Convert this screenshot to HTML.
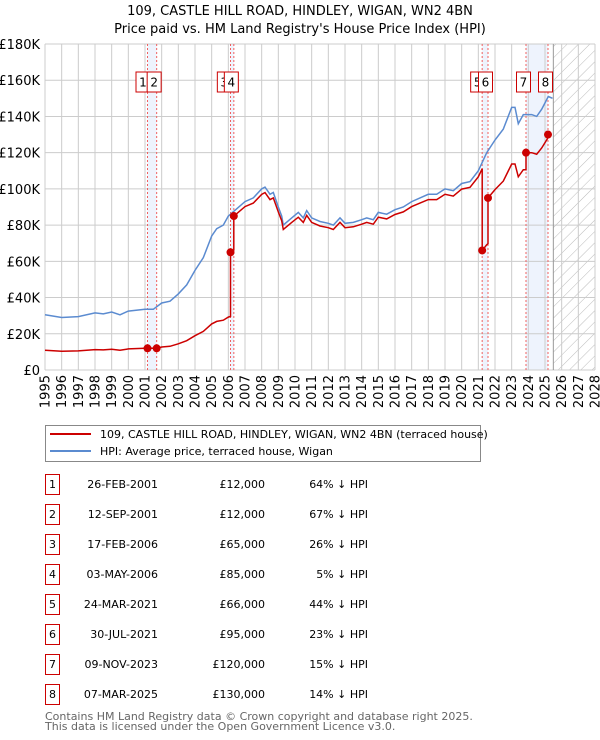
<!DOCTYPE html>
<html><head><meta charset="utf-8"><style>
body{margin:0;background:#fff;font-family:"Liberation Sans","DejaVu Sans",sans-serif}
#wrap{position:relative;width:600px;height:740px;overflow:hidden}
svg text{font-family:"DejaVu Sans","Liberation Sans",sans-serif}
</style></head><body>
<div id="wrap">
<svg id="svg" width="600" height="740"></svg>
</div>
<script>
const years=[1995,1996,1997,1998,1998.5,1999,1999.5,2000,2001,2001.5,2002,2002.5,2003,2003.5,2004,2004.5,2005,2005.3,2005.7,2006,2006.5,2007,2007.5,2008,2008.2,2008.5,2008.7,2009,2009.2,2009.3,2009.8,2010.2,2010.5,2010.7,2011,2011.5,2012,2012.3,2012.7,2013,2013.5,2014,2014.3,2014.7,2015,2015.5,2016,2016.5,2017,2017.5,2018,2018.5,2019,2019.5,2020,2020.5,2021,2021.5,2022,2022.5,2023,2023.2,2023.4,2023.7,2024.2,2024.5,2024.8,2025.2,2025.45];
const hpi=[30.5,29,29.5,31.5,31,32,30.5,32.5,33.5,33.5,37,38,42,47,55,62,74,78,80,85,89,93,95,100,101,97,98,90,85,80,84,87,84,88,84,82,81,80,84,81,81.5,83,84,83,87,86,88.5,90,93,95,97,97,100,99,103,104,110,120,127,133,145,145,136,141,141,140,144,151,150];
const saleDates=[2001.15,2001.7,2006.13,2006.33,2021.23,2021.58,2023.86,2025.18];
const salePrices=[12,12,65,85,66,95,120,130];
const saleLabels=["1","2","3","4","5","6","7","8"];
const saleDateText=["26-FEB-2001","12-SEP-2001","17-FEB-2006","03-MAY-2006","24-MAR-2021","30-JUL-2021","09-NOV-2023","07-MAR-2025"];
const salePriceText=["£12,000","£12,000","£65,000","£85,000","£66,000","£95,000","£120,000","£130,000"];
const salePctText=["64% ↓ HPI","67% ↓ HPI","26% ↓ HPI","5% ↓ HPI","44% ↓ HPI","23% ↓ HPI","15% ↓ HPI","14% ↓ HPI"];
const yTicks=[0,20,40,60,80,100,120,140,160,180];
const yTickLabels=["£0","£20K","£40K","£60K","£80K","£100K","£120K","£140K","£160K","£180K"];

const NS="http://www.w3.org/2000/svg",svg=document.getElementById('svg');
const X0=45,X1=595,Y0=370,Y1=44,T0=1995,T1=2028,VMAX=180;
const x=t=>X0+(t-T0)/(T1-T0)*(X1-X0);
const y=v=>Y0-v/VMAX*(Y0-Y1);
function el(tag,attrs,parent){const e=document.createElementNS(NS,tag);for(const k in attrs)e.setAttribute(k,attrs[k]);(parent||svg).appendChild(e);return e;}
function hpiAt(t){if(t<=years[0])return hpi[0];for(let i=1;i<years.length;i++){if(t<=years[i]){const f=(t-years[i-1])/(years[i]-years[i-1]);return hpi[i-1]+f*(hpi[i]-hpi[i-1]);}}return hpi[hpi.length-1];}

let t=el('text',{x:300,y:15,'text-anchor':'middle','font-size':13,fill:'#000'});t.textContent="109, CASTLE HILL ROAD, HINDLEY, WIGAN, WN2 4BN";

t=el('text',{x:300,y:33,'text-anchor':'middle','font-size':13,fill:'#000'});t.textContent="Price paid vs. HM Land Registry's House Price Index (HPI)";


for(let i=0;i<saleDates.length;i+=2){const b=el('rect',{x:x(saleDates[i]),y:Y1,width:x(saleDates[i+1])-x(saleDates[i]),height:Y0-Y1,fill:'#eef3fd'});
}
const defs=el('defs',{});const pat=el('pattern',{id:'hatch',width:8,height:8,patternUnits:'userSpaceOnUse',patternTransform:'rotate(45)'},defs);
el('line',{x1:0,y1:0,x2:0,y2:8,stroke:'#bbb','stroke-width':1},pat);
const hx=x(2025.5);
const h=el('rect',{x:hx,y:Y1,width:X1-hx,height:Y0-Y1,fill:'url(#hatch)'});

for(let yr=T0;yr<=T1;yr++){const g=el('line',{x1:x(yr),x2:x(yr),y1:Y1,y2:Y0,stroke:'#ccc','stroke-width':1});

const lt=el('text',{x:0,y:0,'text-anchor':'end','font-size':13,fill:'#000',transform:`translate(${x(yr)+4.5},375) rotate(-90)`});lt.textContent=yr;
}
yTicks.forEach((v,i)=>{const g=el('line',{x1:X0,x2:X1,y1:y(v),y2:y(v),stroke:'#ccc','stroke-width':1});

const lt=el('text',{x:40,y:y(v)+5,'text-anchor':'end','font-size':13,fill:'#000'});lt.textContent=yTickLabels[i];
});
const ln=el('line',{x1:hx,x2:hx,y1:Y1,y2:Y0,stroke:'#999','stroke-width':1});

saleDates.forEach(d=>{const l=el('line',{x1:x(d),x2:x(d),y1:Y1,y2:Y0,stroke:'#f06060','stroke-width':1,'stroke-dasharray':'2,2'});
});

let pts=years.map((yr,i)=>x(yr).toFixed(1)+','+y(hpi[i]).toFixed(1)).join(' ');
const hl=el('polyline',{points:pts,fill:'none',stroke:'#5b8bd0','stroke-width':1.5});


function factorAt(tt){let k=0;for(let i=0;i<saleDates.length;i++)if(saleDates[i]<=tt)k=i;return salePrices[k]/hpiAt(saleDates[k]);}
const tl=[];years.forEach(yr=>{if(yr<2025.18)tl.push(yr)});saleDates.forEach(d=>{tl.push(d-0.001);tl.push(d)});
tl.sort((a,b)=>a-b);
const rp=tl.filter(tt=>tt<=2025.18).map(tt=>x(tt).toFixed(1)+','+y(hpiAt(tt)*factorAt(tt)).toFixed(1)).join(' ');
const rl=el('polyline',{points:rp,fill:'none',stroke:'#cc0000','stroke-width':1.5});

saleDates.forEach((d,i)=>{const c=el('circle',{cx:x(d),cy:y(salePrices[i]),r:4,fill:'#cc0000'});
});

const centers=saleDates.map(d=>x(d)-2.5);
for(let i=0;i<centers.length-1;i++){if(centers[i]>centers[i+1]-14)centers[i]=Math.min(x(saleDates[i])-4.5,centers[i+1]-7);}
centers.forEach((cx,i)=>{const g=el('g',{});
el('rect',{x:cx-7,y:72,width:14,height:20,fill:'#fff',stroke:'#cc0000','stroke-width':1},g);
const tx=el('text',{x:cx,y:86.5,'text-anchor':'middle','font-size':12,fill:'#000'},g);tx.textContent=saleLabels[i];});

const lg=el('g',{});
el('rect',{x:45.5,y:425.5,width:435,height:36,fill:'#fff',stroke:'#888'},lg);
el('line',{x1:50,x2:91,y1:434,y2:434,stroke:'#cc0000','stroke-width':2},lg);
el('line',{x1:50,x2:91,y1:451,y2:451,stroke:'#5b8bd0','stroke-width':2},lg);
let lt1=el('text',{x:100,y:438,'font-size':11,fill:'#000'},lg);lt1.textContent="109, CASTLE HILL ROAD, HINDLEY, WIGAN, WN2 4BN (terraced house)";
let lt2=el('text',{x:100,y:455,'font-size':11,fill:'#000'},lg);lt2.textContent="HPI: Average price, terraced house, Wigan";

saleLabels.forEach((lab,i)=>{const ry=483+i*30;const g=el('g',{});
el('rect',{x:45.5,y:ry-8.5,width:14,height:20,fill:'#fff',stroke:'#cc0000','stroke-width':1},g);
let a=el('text',{x:52.5,y:ry+5,'text-anchor':'middle','font-size':11,fill:'#000'},g);a.textContent=lab;
a=el('text',{x:158,y:ry+5,'text-anchor':'end','font-size':11,fill:'#000'},g);a.textContent=saleDateText[i];
a=el('text',{x:265,y:ry+5,'text-anchor':'end','font-size':11,fill:'#000'},g);a.textContent=salePriceText[i];
a=el('text',{x:368,y:ry+5,'text-anchor':'end','font-size':11,fill:'#000'},g);a.textContent=salePctText[i];});

let f=el('text',{x:45,y:720,'font-size':11,fill:'#666'});f.textContent="Contains HM Land Registry data © Crown copyright and database right 2025.";

f=el('text',{x:45,y:730,'font-size':11,fill:'#666'});f.textContent="This data is licensed under the Open Government Licence v3.0.";

</script>
</body></html>
